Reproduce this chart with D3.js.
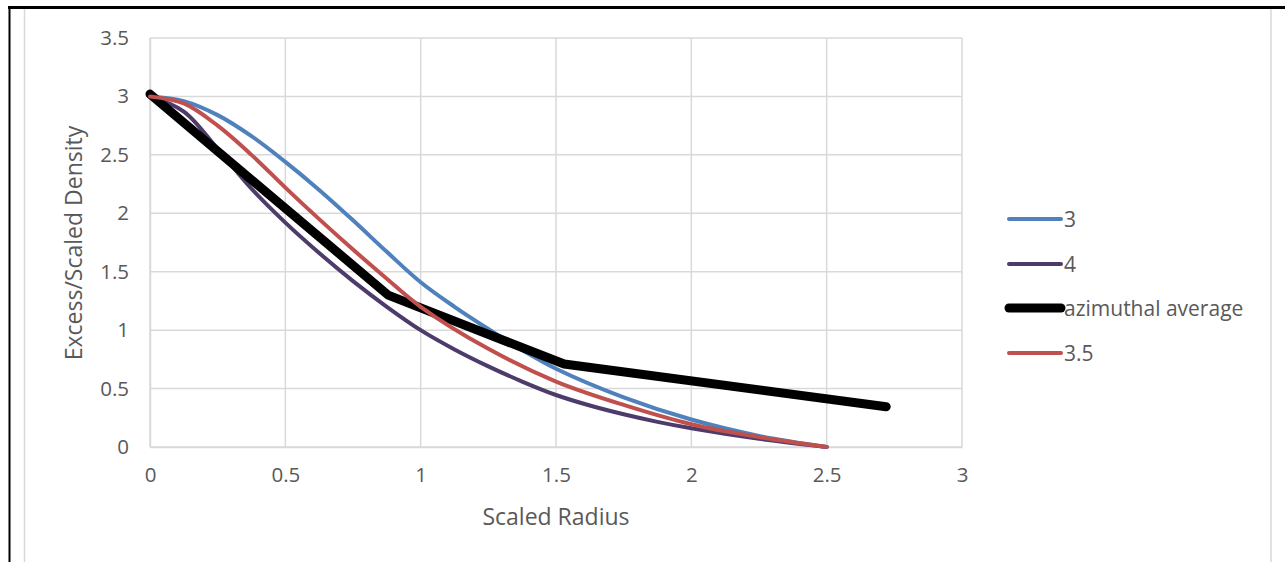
<!DOCTYPE html>
<html><head><meta charset="utf-8">
<script src="https://cdn.jsdelivr.net/npm/d3@7"></script>
<style>body{margin:0;background:#fff;}svg{display:block;}</style>
</head><body>
<script>
const xTicks = [0, 0.5, 1, 1.5, 2, 2.5, 3];
const yTicks = [0, 0.5, 1, 1.5, 2, 2.5, 3, 3.5];
const xTickLabels = ["0", "0.5", "1", "1.5", "2", "2.5", "3"];
const yTickLabels = ["0", "0.5", "1", "1.5", "2", "2.5", "3", "3.5"];

const radius3   = [0, 0.125, 0.25, 0.375, 0.5, 0.625, 0.75, 0.875, 1.0, 1.125, 1.25, 1.375, 1.5, 1.75, 2.0, 2.25, 2.5];
const values3   = [3.0, 2.96, 2.84, 2.66, 2.44, 2.20, 1.94, 1.67, 1.41, 1.20, 1.01, 0.83, 0.67, 0.425, 0.235, 0.095, 0];
const radius4   = [0, 0.125, 0.25, 0.375, 0.5, 0.625, 0.75, 0.875, 1.0, 1.125, 1.25, 1.375, 1.5, 1.625, 1.75, 1.875, 2.0, 2.25, 2.5];
const values4   = [3.0, 2.87, 2.55, 2.21, 1.92, 1.66, 1.42, 1.20, 1.00, 0.835, 0.69, 0.56, 0.445, 0.355, 0.28, 0.215, 0.16, 0.07, 0];
const radiusAz  = [0, 0.88, 1.53, 2.72];
const valuesAz  = [3.02, 1.30, 0.71, 0.345];
const radius35  = [0, 0.125, 0.25, 0.375, 0.5, 0.625, 0.75, 0.875, 1.0, 1.25, 1.5, 1.75, 2.0, 2.25, 2.5];
const values35  = [3.0, 2.94, 2.75, 2.50, 2.22, 1.95, 1.69, 1.44, 1.20, 0.84, 0.56, 0.36, 0.195, 0.085, 0];

const seriesNames = ["3", "4", "azimuthal average", "3.5"];
const seriesColors = ["#4f81bd", "#4d3b6b", "#000000", "#c0504d"];
const seriesWidths = [4, 4, 9, 4];

const W = 1285, H = 562;
const svg = d3.select("body").append("svg").attr("width", W).attr("height", H);
const font = "'Open Sans', sans-serif";
const txt = "#595959";

// page frame
svg.append("line").attr("x1", 8).attr("x2", W).attr("y1", 7.5).attr("y2", 7.5).attr("stroke", "#000").attr("stroke-width", 3);
svg.append("line").attr("x1", 9.5).attr("x2", 9.5).attr("y1", 6).attr("y2", H).attr("stroke", "#000").attr("stroke-width", 2);
svg.append("line").attr("x1", 24.5).attr("x2", 24.5).attr("y1", 9).attr("y2", H).attr("stroke", "#d9d9d9").attr("stroke-width", 1.5);
svg.append("line").attr("x1", 1271).attr("x2", 1271).attr("y1", 9).attr("y2", H).attr("stroke", "#d9d9d9").attr("stroke-width", 1.5);

const x = d3.scaleLinear().domain([0, 3]).range([150, 962]);
const y = d3.scaleLinear().domain([0, 3.5]).range([447, 38]);

// gridlines
const g = svg.append("g");
g.selectAll(".vg").data(xTicks).enter().append("line")
  .attr("x1", d => x(d)).attr("x2", d => x(d)).attr("y1", y(3.5)).attr("y2", y(0))
  .attr("stroke", "#d9d9d9").attr("stroke-width", 1.5);
g.selectAll(".hg").data(yTicks).enter().append("line")
  .attr("x1", x(0)).attr("x2", x(3)).attr("y1", d => y(d)).attr("y2", d => y(d))
  .attr("stroke", "#d9d9d9").attr("stroke-width", 1.5);

// axes
const xAxis = d3.axisBottom(x).tickValues(xTicks).tickFormat((d, i) => xTickLabels[i]).tickSize(0).tickPadding(20);
const yAxis = d3.axisLeft(y).tickValues(yTicks).tickFormat((d, i) => yTickLabels[i]).tickSize(0).tickPadding(21);
const gx = svg.append("g").attr("transform", `translate(0,${y(0)})`).call(xAxis);
const gy = svg.append("g").attr("transform", `translate(${x(0)},0)`).call(yAxis);
[gx, gy].forEach(a => {
  a.attr("font-family", null).attr("font-size", null);
  a.select(".domain").attr("stroke", "#d9d9d9").attr("stroke-width", 1.5);
  a.selectAll("text").attr("fill", txt).style("font-family", font).style("font-size", "20.5px");
});

// lines
const all = [
  radius3.map((r, i) => [r, values3[i]]),
  radius4.map((r, i) => [r, values4[i]]),
  radiusAz.map((r, i) => [r, valuesAz[i]]),
  radius35.map((r, i) => [r, values35[i]])
];
const smooth = d3.line().x(d => x(d[0])).y(d => y(d[1])).curve(d3.curveCatmullRom.alpha(0.5));
const straight = d3.line().x(d => x(d[0])).y(d => y(d[1]));
all.forEach((pts, i) => {
  svg.append("path").attr("d", i === 2 ? straight(pts) : smooth(pts))
    .attr("fill", "none").attr("stroke", seriesColors[i]).attr("stroke-width", seriesWidths[i])
    .attr("stroke-linecap", "round").attr("stroke-linejoin", "round");
});

// titles
svg.append("text").attr("x", 556).attr("y", 525).attr("text-anchor", "middle")
  .attr("fill", txt).style("font-family", font).style("font-size", "23px").text("Scaled Radius");
svg.append("text").attr("transform", "translate(82,243) rotate(-90)").attr("text-anchor", "middle")
  .attr("fill", txt).style("font-family", font).style("font-size", "23px").text("Excess/Scaled Density");

// legend
const legY = [219, 264, 308, 353];
seriesNames.forEach((n, i) => {
  svg.append("line").attr("x1", 1009).attr("x2", 1061).attr("y1", legY[i]).attr("y2", legY[i])
    .attr("stroke", seriesColors[i]).attr("stroke-width", seriesWidths[i]).attr("stroke-linecap", "round");
  svg.append("text").attr("x", 1064).attr("y", legY[i] + 7.5).attr("fill", txt)
    .style("font-family", font).style("font-size", "21px").text(n);
});
</script>
</body></html>
